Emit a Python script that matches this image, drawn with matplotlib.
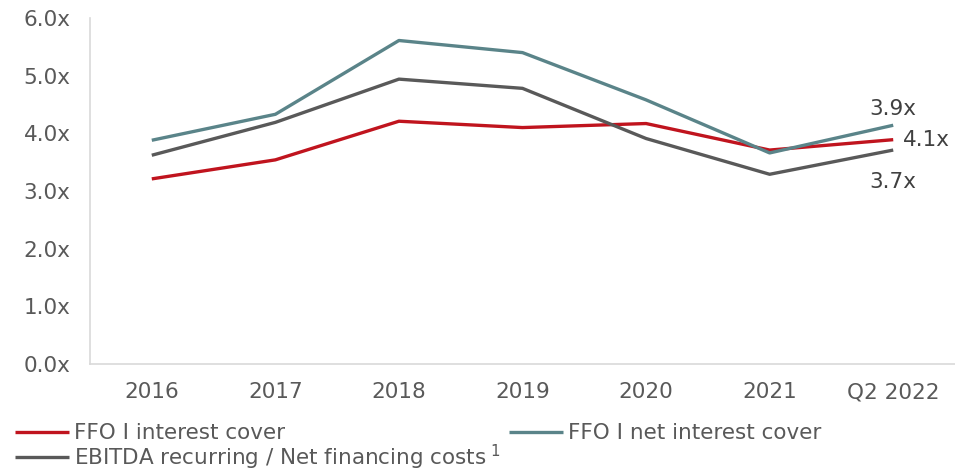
import matplotlib
matplotlib.use("Agg")
import matplotlib.pyplot as plt

categories = ["2016", "2017", "2018", "2019", "2020", "2021", "Q2 2022"]
ffo_interest = [3.21, 3.54, 4.21, 4.10, 4.17, 3.71, 3.89]
ffo_net_interest = [3.88, 4.33, 5.61, 5.40, 4.58, 3.66, 4.14]
ebitda_cover = [3.62, 4.19, 4.94, 4.78, 3.91, 3.29, 3.71]
yticks = [0, 1, 2, 3, 4, 5, 6]
end_labels = ["3.9x", "4.1x", "3.7x"]

RED = "#C0141E"
TEAL = "#5A8489"
GREY = "#595959"
TXT = "#595959"
FS = 15.5

plt.rcParams["font.family"] = ["DejaVu Sans"]

fig = plt.figure(figsize=(9.55, 4.70), dpi=100)
ax = fig.add_axes([90/955, 1-364/470, 1-90/955, (364-18)/470])

x = list(range(len(categories)))
l_red, = ax.plot(x, ffo_interest, color=RED, lw=2.4, solid_capstyle="butt")
l_teal, = ax.plot(x, ffo_net_interest, color=TEAL, lw=2.4, solid_capstyle="butt")
l_grey, = ax.plot(x, ebitda_cover, color=GREY, lw=2.4, solid_capstyle="butt")

ax.set_xlim(-0.5, len(categories) - 0.5)
ax.set_ylim(0, 6)
ax.set_yticks(yticks)
ax.set_yticklabels([f"{v:.1f}x" for v in yticks])
ax.set_xticks(x)
ax.set_xticklabels(categories)
ax.tick_params(axis="both", length=0, labelsize=FS, colors=TXT)
ax.tick_params(axis="y", pad=14)
ax.tick_params(axis="x", pad=13)
for s in ["top", "right"]:
    ax.spines[s].set_visible(False)
for s in ["left", "bottom"]:
    ax.spines[s].set_color("#D9D9D9")
    ax.spines[s].set_linewidth(1.2)

last = len(categories) - 1
ax.annotate(end_labels[0], (last, ffo_net_interest[-1]), xytext=(0, 12),
            textcoords="offset points", ha="center", va="center", fontsize=FS, color="#404040")
ax.annotate(end_labels[1], (last, ffo_interest[-1]), xytext=(7, 0),
            textcoords="offset points", ha="left", va="center", fontsize=FS, color="#404040")
ax.annotate(end_labels[2], (last, ebitda_cover[-1]), xytext=(0, -23),
            textcoords="offset points", ha="center", va="center", fontsize=FS, color="#404040")

leg = fig.legend([l_red, l_grey, l_teal],
                 ["FFO I interest cover", "EBITDA recurring / Net financing costs\u2009$^{1}$",
                  "FFO I net interest cover"],
                 ncol=2, loc="upper left", bbox_to_anchor=(0.016, 0.099),
                 frameon=False, fontsize=FS, handlelength=2.5, handletextpad=0.25,
                 columnspacing=0.4, labelspacing=-0.05, borderaxespad=0, borderpad=0)
for t in leg.get_texts():
    t.set_color(TXT)

fig.savefig("out.png", dpi=100)
